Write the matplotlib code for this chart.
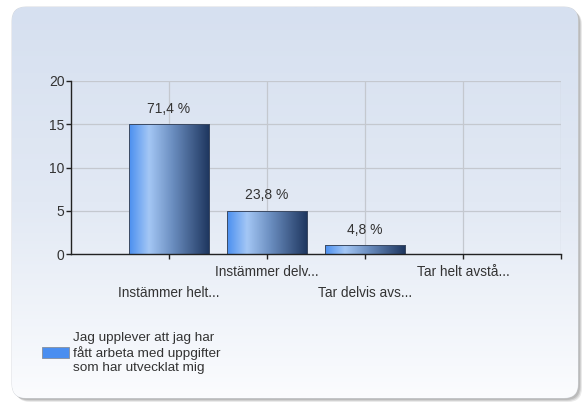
import numpy as np
import matplotlib
matplotlib.use('Agg')
import matplotlib.pyplot as plt
from matplotlib.colors import LinearSegmentedColormap
from matplotlib.patches import FancyBboxPatch

# Data
categories = ['Instämmer helt...', 'Instämmer delv...', 'Tar delvis avs...', 'Tar helt avstå...']
counts = [15, 5, 1, 0]
percent_labels = ['71,4 %', '23,8 %', '4,8 %', '']
series_name = 'Jag upplever att jag har\nfått arbeta med uppgifter\nsom har utvecklat mig'
y_ticks = [0, 5, 10, 15, 20]

plt.rcParams['font.family'] = ['Liberation Sans', 'DejaVu Sans']
text_color = '#333333'

W, H = 585, 403
fig = plt.figure(figsize=(W / 100, H / 100), dpi=100)
fig.patch.set_facecolor('white')

# Panel background (rounded box with vertical gradient and soft shadow)
bg = fig.add_axes([0, 0, 1, 1], zorder=0)
bg.axis('off')
for off, a in [(4, 0.2), (3, 0.3), (2, 0.4)]:
    sh = FancyBboxPatch((12 + off, 7 + off), 566, 391, boxstyle='round,pad=0,rounding_size=14',
                        facecolor='#9a9a9a', edgecolor='none', alpha=a, zorder=0.1)
    bg.add_patch(sh)
panel = FancyBboxPatch((12, 7), 566, 391, boxstyle='round,pad=0,rounding_size=14',
                       facecolor='white', edgecolor='#d0d4da', linewidth=0.6, zorder=0.2)
bg.add_patch(panel)
bg_cmap = LinearSegmentedColormap.from_list('bg', ['#d6e0f0', '#e2e9f4', '#fbfcfe'])
grad_v = np.linspace(0, 1, 256).reshape(-1, 1)
im = bg.imshow(grad_v, cmap=bg_cmap, extent=[12, 578, 398, 7], aspect='auto', zorder=0.3)
im.set_clip_path(panel)
bg.set_xlim(0, W)
bg.set_ylim(H, 0)

# Main chart
ax = fig.add_axes([71 / W, 149 / H, 490 / W, 173 / H], zorder=1)
ax.set_facecolor('none')
x = np.arange(len(categories))
bars = ax.bar(x, counts, width=0.81, color='#4a8ef0', edgecolor='#3c4a62',
              linewidth=0.7, label=series_name, zorder=3)

bar_cmap = LinearSegmentedColormap.from_list(
    'bar', [(0, '#4a8ff0'), (0.25, '#a4c7f5'), (0.55, '#6a8dbf'), (1, '#1f3760')])
grad_h = np.linspace(0, 1, 256).reshape(1, -1)
for b in bars:
    h = b.get_height()
    if h <= 0:
        continue
    x0 = b.get_x()
    img = ax.imshow(grad_h, cmap=bar_cmap, extent=[x0, x0 + b.get_width(), 0, h],
                    aspect='auto', zorder=3.5)
    img.set_clip_path(b)
    ax.add_patch(plt.Rectangle((x0, 0), b.get_width(), h, facecolor='none',
                               edgecolor='#3c4a62', linewidth=0.7, zorder=4))

for xi, c, lab in zip(x, counts, percent_labels):
    if lab:
        ax.annotate(lab, (xi, c), xytext=(0, 6), textcoords='offset points',
                    ha='center', va='bottom', fontsize=10, color=text_color, zorder=5)

ax.set_xlim(-1, 4)
ax.set_ylim(0, 20)
ax.set_yticks(y_ticks)
ax.set_xticks(list(x) + [4])
ax.set_xticklabels(categories + [''])
ax.grid(True, color='#c4c8cf', linewidth=0.9, zorder=0)
ax.set_axisbelow(True)
for s in ['top', 'right']:
    ax.spines[s].set_visible(False)
for s in ['left', 'bottom']:
    ax.spines[s].set_color('#222222')
    ax.spines[s].set_linewidth(1.0)
    ax.spines[s].set_zorder(6)
ax.tick_params(axis='both', colors='#222222', labelcolor=text_color, labelsize=9.8,
               length=3.6, width=1.0)
ax.tick_params(axis='y', labelsize=10, pad=1)
for i, t in enumerate(ax.xaxis.get_major_ticks()):
    t.set_pad(19.5 if i % 2 == 0 else 4)

# Legend
leg = ax.legend(loc='upper left', bbox_to_anchor=(42 / W, 1 - 332 / H),
                bbox_transform=fig.transFigure, frameon=False, fontsize=9.7,
                handlelength=2.0, handleheight=0.85, handletextpad=0.3,
                borderaxespad=0, borderpad=0, labelcolor=text_color, labelspacing=0.2)
for hnd in leg.legend_handles:
    hnd.set_edgecolor('#8a96a8')
    hnd.set_linewidth(0.7)

fig.savefig('out.png', dpi=100)
